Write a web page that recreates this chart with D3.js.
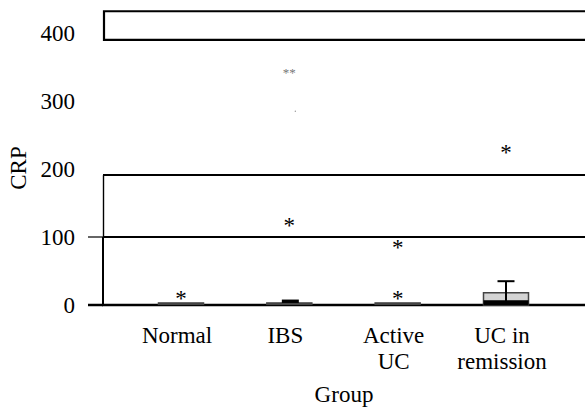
<!DOCTYPE html>
<html>
<head>
<meta charset="utf-8">
<script src="https://cdn.jsdelivr.net/npm/d3@7"></script>
<style>
  body { margin: 0; background: #fff; }
  svg { display: block; }
</style>
</head>
<body>
<div class="chart"></div>
<script>
// Data (CRP by group)
var groups = ["Normal", "IBS", "Active UC", "UC in remission"];
var groupLines = [["Normal"], ["IBS"], ["Active", "UC"], ["UC in", "remission"]];
var q1 = [1, 1, 1, 0];
var median = [1, 1, 1, 7];
var q3 = [3, 3, 3, 18];
var whiskerHigh = [3, 3, 3, 35];
var innerBar = [null, [3, 8], null, null];   // narrow dark bar on IBS

var outlierGroup = ["Normal", "IBS", "Active UC", "Active UC", "UC in remission"];
var outlierValue = [15, 122, 15, 90, 229];
var extremeGroup = ["IBS"];
var extremeValue = [344];
var dotGroup = ["IBS"];
var dotValue = [285];

var yTicks = [0, 100, 200, 300, 400];
var frameLines = [100, 191];        // horizontal rules across the plot
var topBand = [390, 432];           // open box at the top

var width = 585, height = 409;
var margin = { top: 11, right: 0, bottom: 104, left: 103 };
var fs = 23;

var svg = d3.select("div.chart")
    .append("svg")
    .attr("width", width)
    .attr("height", height)
    .style("font-family", "'Liberation Serif', 'Times New Roman', serif");

var y = d3.scaleLinear()
    .domain([0, 400])
    .range([305, 33]);

var x = d3.scalePoint()
    .domain(groups)
    .range([181, 506]);

var boxW = 45, capW = 17;

// y axis labels + the two drawn ticks
var yAxis = g => g
    .attr("transform", `translate(${margin.left},0)`)
    .call(d3.axisLeft(y).tickValues(yTicks).tickSize(0).tickPadding(28))
    .call(g => g.select(".domain").remove())
    .call(g => g.selectAll(".tick text")
        .attr("font-size", fs)
        .attr("font-family", "'Liberation Serif', serif")
        .attr("fill", "#000"));
svg.append("g").call(yAxis);

svg.append("g")
    .selectAll("line")
    .data([0, 100])
    .join("line")
      .attr("x1", 88)
      .attr("x2", margin.left)
      .attr("y1", d => y(d))
      .attr("y2", d => y(d))
      .attr("stroke", "#000")
      .attr("stroke-width", d => d === 0 ? 2.5 : 1.2);

// frame: vertical axis, rules, baseline
svg.append("line")
    .attr("x1", margin.left).attr("x2", margin.left)
    .attr("y1", y(0)).attr("y2", y(100))
    .attr("stroke", "#000").attr("stroke-width", 2);
svg.append("line")
    .attr("x1", margin.left + 0.5).attr("x2", margin.left + 0.5)
    .attr("y1", y(100)).attr("y2", y(frameLines[1]))
    .attr("stroke", "#000").attr("stroke-width", 1.4);

svg.append("g")
    .selectAll("line")
    .data(frameLines)
    .join("line")
      .attr("x1", margin.left)
      .attr("x2", width)
      .attr("y1", d => y(d))
      .attr("y2", d => y(d))
      .attr("stroke", "#000")
      .attr("stroke-width", 2);

svg.append("line")
    .attr("x1", margin.left - 1).attr("x2", width)
    .attr("y1", y(0)).attr("y2", y(0))
    .attr("stroke", "#000").attr("stroke-width", 2.5);

svg.append("path")
    .attr("d", `M${width + 2},${y(topBand[1])}H${margin.left + 1}V${y(topBand[0])}H${width + 2}`)
    .attr("fill", "none")
    .attr("stroke", "#000")
    .attr("stroke-width", 2.2);

// boxes
var boxes = svg.append("g")
    .selectAll("g")
    .data(groups)
    .join("g")
      .attr("transform", d => `translate(${x(d)},0)`);

boxes.append("rect")
    .attr("x", -boxW / 2)
    .attr("width", boxW)
    .attr("y", (d, i) => y(q3[i]))
    .attr("height", (d, i) => Math.max(1, y(q1[i]) - y(q3[i])))
    .attr("fill", "#d4d4d4")
    .attr("stroke", "#444")
    .attr("stroke-width", 1.5);

boxes.filter((d, i) => median[i] > q1[i])
    .append("rect")
    .attr("x", -boxW / 2)
    .attr("width", boxW)
    .attr("y", d => y(median[groups.indexOf(d)]))
    .attr("height", d => y(q1[groups.indexOf(d)]) - y(median[groups.indexOf(d)]))
    .attr("fill", "#000");

boxes.filter((d, i) => whiskerHigh[i] > q3[i])
    .each(function (d) {
        var i = groups.indexOf(d);
        var g = d3.select(this);
        g.append("line")
            .attr("x1", 0).attr("x2", 0)
            .attr("y1", y(q1[i])).attr("y2", y(whiskerHigh[i]))
            .attr("stroke", "#000").attr("stroke-width", 2);
        g.append("line")
            .attr("x1", -capW / 2).attr("x2", capW / 2)
            .attr("y1", y(whiskerHigh[i])).attr("y2", y(whiskerHigh[i]))
            .attr("stroke", "#000").attr("stroke-width", 2);
    });

boxes.filter((d, i) => innerBar[i] !== null)
    .append("rect")
    .attr("x", -capW / 2 + 1)
    .attr("width", capW)
    .attr("y", d => y(innerBar[groups.indexOf(d)][1]))
    .attr("height", d => y(innerBar[groups.indexOf(d)][0]) - y(innerBar[groups.indexOf(d)][1]))
    .attr("fill", "#000");

// outliers
svg.append("g")
    .selectAll("text")
    .data(outlierValue)
    .join("text")
      .attr("x", (d, i) => x(outlierGroup[i]))
      .attr("y", d => y(d) + fs * 0.47)
      .attr("text-anchor", "middle")
      .attr("font-size", fs)
      .attr("fill", "#000")
      .text("*");

svg.append("g")
    .selectAll("text")
    .data(extremeValue)
    .join("text")
      .attr("x", (d, i) => x(extremeGroup[i]))
      .attr("y", d => y(d) + 13 * 0.47)
      .attr("text-anchor", "middle")
      .attr("font-size", 13)
      .attr("fill", "#777")
      .text("**");

svg.append("g")
    .selectAll("circle")
    .data(dotValue)
    .join("circle")
      .attr("cx", (d, i) => x(dotGroup[i]) + 6)
      .attr("cy", d => y(d))
      .attr("r", 0.7)
      .attr("fill", "#999");

// category labels
svg.append("g")
    .selectAll("text")
    .data(groups)
    .join("text")
      .attr("text-anchor", "middle")
      .attr("font-size", fs)
      .attr("fill", "#000")
      .attr("transform", d => `translate(${x(d) - 4},343)`)
      .selectAll("tspan")
      .data((d, i) => groupLines[i])
      .join("tspan")
        .attr("x", 0)
        .attr("dy", (d, j) => j === 0 ? 0 : 26)
        .text(d => d);

// axis titles
svg.append("text")
    .attr("x", 344)
    .attr("y", 402)
    .attr("text-anchor", "middle")
    .attr("font-size", fs)
    .text("Group");

svg.append("text")
    .attr("transform", "translate(26,168) rotate(-90)")
    .attr("text-anchor", "middle")
    .attr("font-size", fs)
    .text("CRP");
</script>
</body>
</html>
